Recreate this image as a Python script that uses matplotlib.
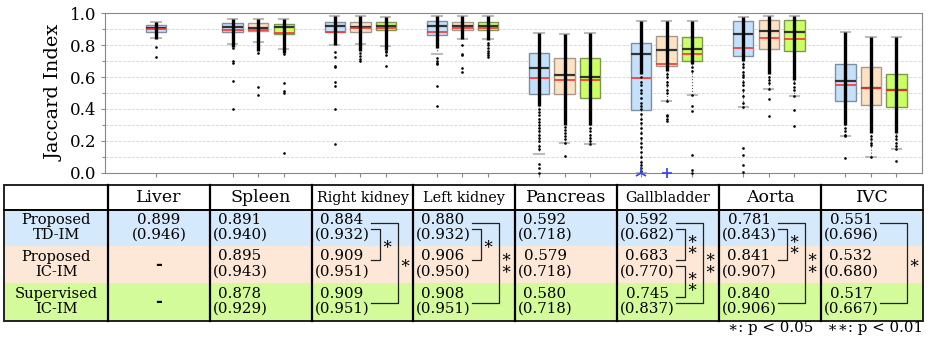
import numpy as np
import matplotlib
matplotlib.use("Agg")
import matplotlib.pyplot as plt
from matplotlib.ticker import MultipleLocator

plt.rcParams['font.family'] = ['DejaVu Serif']

organs = ["Liver", "Spleen", "Right kidney", "Left kidney", "Pancreas",
          "Gallbladder", "Aorta", "IVC"]
methods = ["Proposed\nTD-IM", "Proposed\nIC-IM", "Supervised\nIC-IM"]
nan = np.nan

# box statistics (rows: TD-IM, IC-IM, supervised IC-IM)
q1 = [[0.881, 0.881, 0.881, 0.864, 0.494, 0.396, 0.731, 0.452],
      [nan, 0.887, 0.883, 0.896, 0.494, 0.671, 0.773, 0.427],
      [nan, 0.871, 0.894, 0.891, 0.470, 0.698, 0.762, 0.412]]
q3 = [[0.922, 0.937, 0.946, 0.948, 0.750, 0.810, 0.948, 0.681],
      [nan, 0.935, 0.942, 0.944, 0.719, 0.858, 0.956, 0.662],
      [nan, 0.933, 0.944, 0.944, 0.717, 0.850, 0.956, 0.619]]
med = [[0.906, 0.910, 0.916, 0.919, 0.656, 0.746, 0.871, 0.577],
       [nan, 0.908, 0.914, 0.920, 0.612, 0.769, 0.885, 0.531],
       [nan, 0.910, 0.916, 0.920, 0.602, 0.775, 0.881, 0.521]]
whis_hi = [[0.946, 0.964, 0.983, 0.983, 0.873, 0.952, 0.975, 0.879],
           [nan, 0.964, 0.983, 0.983, 0.867, 0.952, 0.983, 0.852],
           [nan, 0.964, 0.977, 0.983, 0.873, 0.952, 0.983, 0.848]]
whis_lo = [[0.843, 0.806, 0.802, 0.746, 0.119, 0.000, 0.410, 0.229],
           [nan, 0.816, 0.806, 0.837, 0.188, 0.448, 0.525, 0.102],
           [nan, 0.777, 0.796, 0.837, 0.183, 0.485, 0.481, 0.150]]
# mean Jaccard (table) and value in brackets
mean_vals = [[0.899, 0.891, 0.884, 0.880, 0.592, 0.592, 0.781, 0.551],
             [nan, 0.895, 0.909, 0.906, 0.579, 0.683, 0.841, 0.532],
             [nan, 0.878, 0.909, 0.908, 0.580, 0.745, 0.840, 0.517]]
paren_vals = [[0.946, 0.940, 0.932, 0.932, 0.718, 0.682, 0.843, 0.696],
              [nan, 0.943, 0.951, 0.950, 0.718, 0.770, 0.907, 0.680],
              [nan, 0.929, 0.951, 0.951, 0.718, 0.837, 0.906, 0.667]]

# lower end of the dense column of cases (top end = upper whisker)
dense_lo = [[0.84, 0.79, 0.80, 0.78, 0.42, 0.62, 0.70, 0.30],
            [nan, 0.76, 0.76, 0.84, 0.30, 0.64, 0.62, 0.25],
            [nan, 0.75, 0.77, 0.83, 0.30, 0.68, 0.58, 0.25]]
# separate cases below the dense column
sparse = [
    [[0.79, 0.725],
     [0.78, 0.70, 0.69, 0.577, 0.40],
     [0.754, 0.723, 0.667, 0.66, 0.569, 0.544, 0.40, 0.179],
     [0.72, 0.70, 0.69, 0.68, 0.544, 0.42],
     [0.40, 0.38, 0.36, 0.34, 0.32, 0.30, 0.28, 0.26, 0.24, 0.22, 0.20,
      0.17, 0.15, 0.056, 0.03, 0.0],
     [0.60, 0.57, 0.55, 0.52, 0.50, 0.47, 0.44, 0.42, 0.40, 0.37, 0.34,
      0.31, 0.28, 0.25, 0.22, 0.19, 0.16, 0.13, 0.10, 0.07, 0.05, 0.03, 0.01],
     [0.68, 0.66, 0.63, 0.61, 0.60, 0.57, 0.55, 0.52, 0.48, 0.44, 0.41,
      0.156, 0.115, 0.052, 0.004],
     [0.28, 0.26, 0.24, 0.229, 0.094]],
    [[],
     [0.75, 0.537, 0.489],
     [0.75, 0.73, 0.714, 0.70],
     [0.80, 0.746, 0.735, 0.656, 0.633],
     [0.29, 0.27, 0.25, 0.23, 0.21, 0.188, 0.104],
     [0.62, 0.60, 0.57, 0.55, 0.52, 0.50, 0.448, 0.364, 0.354, 0.339, 0.323],
     [0.60, 0.58, 0.56, 0.525, 0.46, 0.358],
     [0.23, 0.21, 0.19, 0.172, 0.102]],
    [[],
     [0.745, 0.564, 0.515, 0.497, 0.125],
     [0.76, 0.754, 0.74, 0.667],
     [0.81, 0.80, 0.78, 0.76, 0.75, 0.735, 0.725],
     [0.28, 0.26, 0.24, 0.22, 0.20, 0.183],
     [0.66, 0.64, 0.485, 0.417, 0.39, 0.11, 0.02, 0.0],
     [0.56, 0.54, 0.52, 0.481, 0.391, 0.296],
     [0.23, 0.21, 0.19, 0.17, 0.15, 0.075]],
]

box_colors = ["#c4e0fa", "#fde2c4", "#ccff66"]
box_edges = ["#7f8fa0", "#a89a8a", "#7d9650"]
row_colors = ["#d5e9fc", "#fde8d8", "#d4fb9a"]

# significance brackets: column, (row, line) top, (row, line) bottom, kind, stars
brackets = [
    (2, (0, 1), (1, 0), "in", 1), (2, (0, 0), (2, 1), "out", 1),
    (3, (0, 1), (1, 0), "in", 1), (3, (0, 0), (2, 1), "out", 2),
    (5, (0, 1), (1, 0), "in", 2), (5, (1, 1), (2, 0), "in", 2),
    (5, (0, 0), (2, 1), "out", 2),
    (6, (0, 1), (1, 0), "in", 2), (6, (0, 0), (2, 1), "out", 2),
    (7, (0, 0), (2, 1), "out", 1),
]

W, H = 930, 338
fig = plt.figure(figsize=(W / 100, H / 100), dpi=100)
ax = fig.add_axes([105 / W, 1 - 173 / H, (922 - 105) / W, (173 - 13) / H])

offsets = [-0.25, 0.0, 0.25]
for m in range(3):
    for g in range(len(organs)):
        if np.isnan(q1[m][g]):
            continue
        only_one = all(np.isnan(q1[k][g]) for k in range(3) if k != m)
        x = g if only_one else g + offsets[m]
        st = dict(q1=q1[m][g], q3=q3[m][g], med=med[m][g], mean=mean_vals[m][g],
                  whislo=whis_lo[m][g], whishi=whis_hi[m][g], fliers=[])
        ax.bxp([st], positions=[x], widths=0.2, patch_artist=True,
               showmeans=True, meanline=True, showfliers=False,
               boxprops=dict(facecolor=box_colors[m], edgecolor=box_edges[m], lw=1),
               medianprops=dict(color="#333333", lw=1.6),
               meanprops=dict(color="#ff3030", lw=1.2, ls="-"),
               whiskerprops=dict(color="#555555", lw=0.8, ls=":"),
               capprops=dict(color="#bbbbbb", lw=1.5), capwidths=0.09,
               zorder=2)
        ax.vlines(x, dense_lo[m][g], whis_hi[m][g], color="black", lw=2.4, zorder=3)
        pts = sparse[m][g]
        ax.plot([x] * len(pts), pts, "o", ms=1.9, mew=0, color="black", zorder=3,
                clip_on=False)

# two odd markers at zero (gallbladder)
ax.plot([5 - 0.25], [0.0], "2", color="#3344ee", ms=9, mew=1.2, clip_on=False, zorder=4)
ax.plot([5.0], [0.0], "+", color="#3344ee", ms=7, mew=1.2, clip_on=False, zorder=4)

ax.set_xlim(-0.5, 7.5)
ax.set_ylim(0, 1.0)
ax.yaxis.set_major_locator(MultipleLocator(0.2))
ax.yaxis.set_minor_locator(MultipleLocator(0.1))
ax.set_yticklabels([f"{v:.1f}" for v in ax.get_yticks()], fontsize=12)
ax.grid(True, which="both", axis="y", color="#d4d4d4", ls="--", lw=0.6, zorder=0)
ax.set_axisbelow(True)
xt = [0] + [g + o for g in range(1, 8) for o in offsets]
ax.set_xticks(xt)
ax.set_xticklabels([])
ax.tick_params(axis="both", which="both", direction="out", color="#888888",
               length=3, width=0.8)
ax.tick_params(axis="y", which="minor", length=2)
for s in ax.spines.values():
    s.set_color("#888888")
ax.set_ylabel("Jaccard Index", fontsize=14, labelpad=4)

# table drawn in pixel coordinates
tx = fig.add_axes([0, 0, 1, 1])
tx.set_xlim(0, W)
tx.set_ylim(H, 0)
tx.axis("off")

col_edges = [4, 108, 210, 312, 413, 515, 617, 719, 821, 923]
row_edges = [185, 210, 246, 283, 321]
for r in range(3):
    tx.add_patch(plt.Rectangle((col_edges[0], row_edges[r + 1]),
                               col_edges[-1] - col_edges[0],
                               row_edges[r + 2] - row_edges[r + 1],
                               color=row_colors[r], lw=0, zorder=1))
tx.add_patch(plt.Rectangle((col_edges[0], row_edges[0]), col_edges[-1] - col_edges[0],
                           row_edges[-1] - row_edges[0], fill=False, ec="#222222",
                           lw=1.4, zorder=3))
for xe in col_edges[1:-1]:
    tx.plot([xe, xe], [row_edges[0], row_edges[-1]], color="black", lw=1.6, zorder=3)
tx.plot([col_edges[0], col_edges[-1]], [row_edges[1]] * 2, color="black", lw=1.4, zorder=3)

for c, name in enumerate(organs):
    xc = (col_edges[c + 1] + col_edges[c + 2]) / 2
    fs = 10.4 if len(name) > 10 else 12.5
    tx.text(xc, 198, name, ha="center", va="center", fontsize=fs, zorder=4)


def line_y(r, k):
    rc = (row_edges[r + 1] + row_edges[r + 2]) / 2
    return rc - 8 if k == 0 else rc + 7


for r, lab in enumerate(methods):
    l1, l2 = lab.split("\n")
    xc = (col_edges[0] + col_edges[1]) / 2
    tx.text(xc, line_y(r, 0), l1, ha="center", va="center", fontsize=10.5, zorder=4)
    tx.text(xc, line_y(r, 1), l2, ha="center", va="center", fontsize=10.5, zorder=4)
    for c in range(len(organs)):
        left = col_edges[c + 1]
        v = mean_vals[r][c]
        if np.isnan(v):
            xc = (left + col_edges[c + 2]) / 2
            tx.text(xc, (line_y(r, 0) + line_y(r, 1)) / 2, "-", ha="center",
                    va="center", fontsize=12, fontweight="bold", zorder=4)
            continue
        xc = (left + col_edges[c + 2]) / 2 if c == 0 else left + 30
        tx.text(xc, line_y(r, 0), f"{v:.3f}", ha="center", va="center",
                fontsize=10.8, zorder=4)
        tx.text(xc, line_y(r, 1), f"({paren_vals[r][c]:.3f})", ha="center",
                va="center", fontsize=10.8, zorder=4)


def attach_y(rl):
    r, k = rl
    return line_y(r, k) + 3 if k == 0 else line_y(r, k) - 6


for c, top, bot, kind, nstar in brackets:
    left = col_edges[c + 1]
    xs = left + 59
    xv = left + (68 if kind == "in" else 86)
    xstar = left + (75 if kind == "in" else 93)
    y0, y1 = attach_y(top), attach_y(bot)
    tx.plot([xs, xv, xv, xs], [y0, y0, y1, y1], color="#222222", lw=0.9, zorder=4)
    ym = (y0 + y1) / 2
    label = "\u2217" if nstar == 1 else "\u2217\n\u2217"
    tx.text(xstar, ym, label, ha="center", va="center", fontsize=12,
            linespacing=0.6, zorder=4)

tx.text(923, 328, "\u2217: p < 0.05   \u2217\u2217: p < 0.01", ha="right",
        va="center", fontsize=10.8)

fig.savefig("out.png", dpi=100)
